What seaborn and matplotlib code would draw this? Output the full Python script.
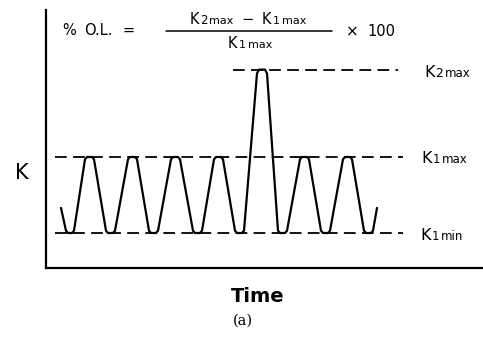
import matplotlib
matplotlib.use("Agg")
import numpy as np
import pandas as pd
import seaborn as sns
import matplotlib.pyplot as plt
from matplotlib.transforms import IdentityTransform
from matplotlib.lines import Line2D

# Load cycle: time (arbitrary units) and stiffness K
time = [15,
        20, 22, 26, 28, 39, 41, 46, 48,
        60, 62, 67, 69, 82, 84, 89, 91,
        103, 105, 110, 112, 125, 127, 132, 134,
        147, 149, 154, 156, 168, 170, 175, 177,
        189, 191, 196, 198, 211, 213, 219, 221,
        232, 234, 239, 241, 254, 256, 261, 263,
        275, 277, 282, 284, 297, 299, 304, 306,
        318, 320, 325, 327,
        331]
k_value = [1.33,
           1.03, 1.00, 1.00, 1.03, 1.97, 2.00, 2.00, 1.97,
           1.03, 1.00, 1.00, 1.03, 1.97, 2.00, 2.00, 1.97,
           1.03, 1.00, 1.00, 1.03, 1.97, 2.00, 2.00, 1.97,
           1.03, 1.00, 1.00, 1.03, 1.97, 2.00, 2.00, 1.97,
           1.03, 1.00, 1.00, 1.03, 3.10, 3.15, 3.15, 3.10,
           1.03, 1.00, 1.00, 1.03, 1.97, 2.00, 2.00, 1.97,
           1.03, 1.00, 1.00, 1.03, 1.97, 2.00, 2.00, 1.97,
           1.03, 1.00, 1.00, 1.03,
           1.33]

# Reference levels
level_names = ["K2max", "K1max", "K1min"]
level_values = [3.15, 2.00, 1.00]

W, H = 483, 351
sns.set_theme(style="white")
plt.rcParams["font.family"] = ["DejaVu Sans"]

fig = plt.figure(figsize=(W / 100, H / 100), dpi=100)
ax = fig.add_axes([46 / W, 83 / H, 437 / W, 258 / H])

df = pd.DataFrame({"Time": time, "K": k_value})
sns.lineplot(data=df, x="Time", y="K", ax=ax, color="black", lw=1.6,
             sort=False, estimator=None)

dash = (0, (6.5, 3.5))
spans = {"K2max": (187, 352), "K1max": (9, 357), "K1min": (9, 357)}
for name, val in zip(level_names, level_values):
    x0, x1 = spans[name]
    ax.hlines(val, x0, x1, colors="black", lw=1.3, linestyles=[dash])

ax.set_xlim(0, 437)
ax.set_ylim(1 - 35 / 76, 1 + 223 / 76)
ax.set_xticks([])
ax.set_yticks([])
for side in ("top", "right"):
    ax.spines[side].set_visible(False)
for side in ("left", "bottom"):
    ax.spines[side].set_color("black")
    ax.spines[side].set_linewidth(1.6)

ax.set_ylabel("K", rotation=0, fontsize=15, color="black")
ax.yaxis.set_label_coords(-0.055, 0.33)
ax.set_xlabel("Time", fontsize=14, fontweight="bold", color="black")
ax.xaxis.set_label_coords(0.485, -0.075)

renderer = fig.canvas.get_renderer()


def chain(pieces, x, y, center=False):
    """Place text pieces (text, size, gap) side by side on one baseline."""
    items = []
    cur = 0.0
    for s, size, gap in pieces:
        cur += gap
        t = fig.text(0, 0, s, fontsize=size, transform=IdentityTransform(),
                     ha="left", va="baseline", color="black")
        items.append((t, cur))
        cur += t.get_window_extent(renderer=renderer).width
    start = x - cur / 2 if center else x
    for t, c in items:
        t.set_position((start + c, H - y))


# Level labels at the right end of each dashed line
chain([("K", 11.5, 0), ("2", 9, 1), ("max", 8.5, 2)], 424, 77)
chain([("K", 11.5, 0), ("1", 8.5, 1), ("max", 8.5, 2)], 421, 163)
chain([("K", 11.5, 0), ("1", 8.5, 1), ("min", 8.5, 2)], 420, 240)

# Overload formula
chain([("%", 10.5, 0), ("O.L.", 10.5, 8), ("=", 10.5, 10)], 62, 35)
chain([("K", 10.5, 0), ("2", 8.5, 1), ("max", 8, 2), ("\u2212", 10.5, 8),
       ("K", 10.5, 8), ("1", 8, 1), ("max", 8, 3)], 248, 24, center=True)
chain([("K", 10.5, 0), ("1", 8, 1), ("max", 8, 2)], 250, 48, center=True)
fig.add_artist(Line2D([166, 332], [H - 31, H - 31], color="black", lw=1.1,
                      transform=IdentityTransform()))
chain([("\u00d7", 11, 0), ("100", 10.5, 9)], 346, 36)

fig.text(243 / W, 1 - 321 / H, "(a)", fontsize=10.5, ha="center", va="center",
         family=["DejaVu Serif"], color="black")

fig.savefig("out.png", dpi=100, facecolor="white")
